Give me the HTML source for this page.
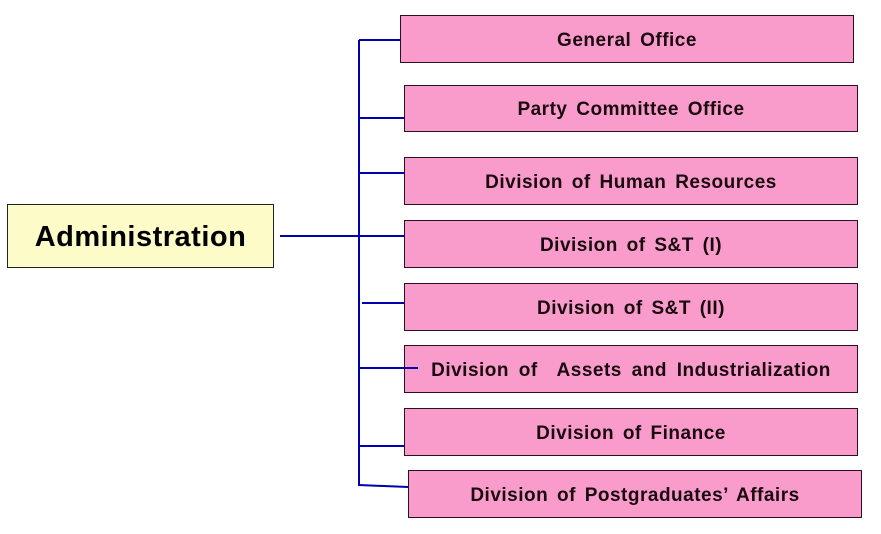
<!DOCTYPE html>
<html><head><style>
body{margin:0;width:881px;height:534px;background:#fff;position:relative;overflow:hidden;font-family:"Liberation Sans",sans-serif}
.b{position:absolute;background:#f99ccb;border:1.5px solid #2a1020;box-sizing:border-box;display:flex;align-items:center;justify-content:center;font-size:19px;font-weight:bold;color:#1a0a10;letter-spacing:0.5px;word-spacing:3px;white-space:nowrap;padding-top:3px}
.a{position:absolute;left:7px;top:204px;width:267px;height:64px;background:#fdfbc8;border:1.5px solid #222;box-sizing:border-box;display:flex;align-items:center;justify-content:center;font-size:29px;font-weight:bold;letter-spacing:0.5px;padding-top:2px}
svg{position:absolute;left:0;top:0;z-index:2}
</style></head><body>
<div class="a">Administration</div>
<div class="b" style="left:400px;top:15px;width:454px;height:48px">General Office</div>
<div class="b" style="left:404px;top:85px;width:454px;height:47px">Party Committee Office</div>
<div class="b" style="left:404px;top:157px;width:454px;height:48px">Division of Human Resources</div>
<div class="b" style="left:404px;top:220px;width:454px;height:48px">Division of S&amp;T (I)</div>
<div class="b" style="left:404px;top:283px;width:454px;height:48px">Division of S&amp;T (II)</div>
<div class="b" style="left:404px;top:345px;width:454px;height:48px;word-spacing:4px">Division of&nbsp; Assets and Industrialization</div>
<div class="b" style="left:404px;top:408px;width:454px;height:48px">Division of Finance</div>
<div class="b" style="left:408px;top:470px;width:454px;height:48px">Division of Postgraduates’ Affairs</div>
<svg width="881" height="534"><g stroke="#0000b0" stroke-width="2" fill="none">
<line x1="359" y1="40" x2="359" y2="486"/>
<line x1="359" y1="40" x2="400" y2="40"/>
<line x1="359" y1="118" x2="404" y2="118"/>
<line x1="359" y1="173" x2="404" y2="173"/>
<line x1="280" y1="236" x2="404" y2="236"/>
<line x1="362" y1="303" x2="404" y2="303"/>
<line x1="359" y1="368" x2="418" y2="368"/>
<line x1="359" y1="446" x2="404" y2="446"/>
<line x1="359" y1="485" x2="408" y2="487"/>
</g></svg>
</body></html>
